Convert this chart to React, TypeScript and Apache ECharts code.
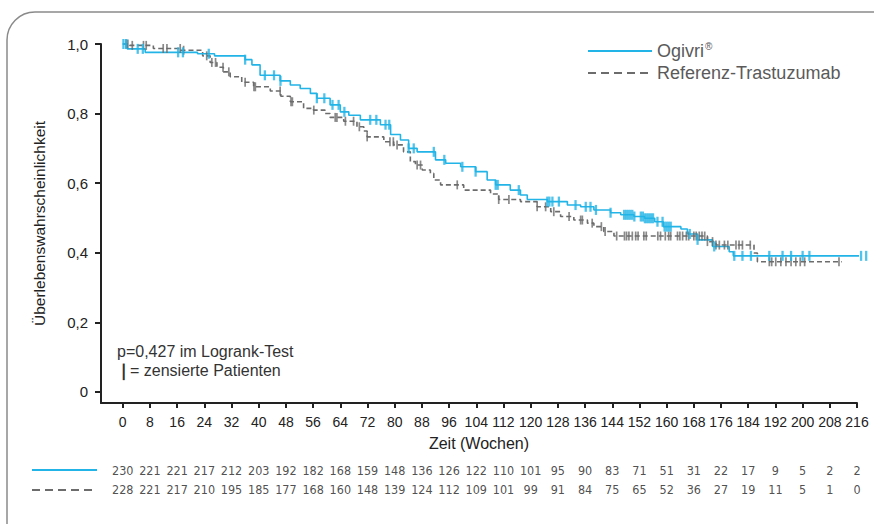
import React, { useEffect, useRef } from 'react';
import * as echarts from 'echarts';

// ---------- data ----------
const weekTicks = [0, 8, 16, 24, 32, 40, 48, 56, 64, 72, 80, 88, 96, 104, 112, 120, 128, 136, 144, 152, 160, 168, 176, 184, 192, 200, 208, 216];
const yTicks = [0, 0.2, 0.4, 0.6, 0.8, 1.0];

const ogivriTimes = [0, 1.3, 6.6, 22, 27, 36, 38, 40.4, 46.3, 49.3, 52.2, 55.2, 57.1, 61, 64, 66.5, 69.9, 75.8, 78.8, 81.7, 84.1, 86.6, 92, 95, 99.4, 103.8, 107.2, 109.7, 114, 117, 119, 124.9, 130.8, 134.7, 138.6, 143.5, 146.5, 150.4, 153.5, 156.5, 159, 164.2, 166.1, 169.1, 173.5, 178.4, 179.6, 219];
const ogivriSurv = [1.0, 0.986, 0.976, 0.972, 0.966, 0.955, 0.94, 0.91, 0.894, 0.882, 0.872, 0.858, 0.844, 0.825, 0.805, 0.795, 0.782, 0.768, 0.74, 0.724, 0.7, 0.69, 0.667, 0.657, 0.647, 0.633, 0.609, 0.595, 0.58, 0.566, 0.553, 0.547, 0.537, 0.532, 0.523, 0.515, 0.509, 0.504, 0.499, 0.489, 0.475, 0.468, 0.454, 0.437, 0.418, 0.403, 0.391, 0.391];

const refTimes = [0, 2, 9, 17, 23.5, 25.7, 27.7, 29.6, 31.6, 35, 38.5, 43.4, 46.5, 49.3, 53.2, 56.1, 59.5, 61, 65, 68.9, 70.9, 71.9, 76.8, 79.7, 82.6, 84.6, 86.1, 88.1, 90.5, 91.5, 93.5, 100.3, 108.2, 110.6, 117, 121.9, 125.9, 128.8, 132.7, 136.7, 138.6, 141.5, 144.5, 172, 174.5, 185.7, 186.7, 211.5];
const refSurv = [1.0, 0.996, 0.987, 0.982, 0.966, 0.947, 0.933, 0.92, 0.906, 0.89, 0.877, 0.865, 0.85, 0.834, 0.815, 0.81, 0.8, 0.789, 0.778, 0.762, 0.75, 0.733, 0.719, 0.71, 0.69, 0.662, 0.652, 0.638, 0.628, 0.609, 0.595, 0.58, 0.569, 0.553, 0.547, 0.532, 0.518, 0.504, 0.494, 0.485, 0.475, 0.461, 0.448, 0.432, 0.422, 0.399, 0.374, 0.374];

const ogivriCensored = [0.2, 1, 4.4, 5.9, 16.3, 17.7, 25.3, 36, 41.8, 44.5, 46.4, 57.1, 59.3, 61.7, 63.5, 65.2, 72.8, 74.6, 77.3, 78.4, 84.1, 85.6, 91.5, 94.6, 99.9, 103.8, 109.7, 110.3, 116.5, 124.9, 125.5, 126.4, 128.3, 133.2, 136.2, 137.6, 139.2, 143.5, 147.5, 148.1, 148.7, 149.3, 149.9, 150.5, 152.4, 153, 153.6, 154.2, 154.8, 155.4, 156, 157.3, 158.8, 159.4, 160, 160.6, 161.2, 166.8, 169.1, 174, 179.9, 182.3, 184.8, 190.2, 194.1, 196.6, 200, 202, 217.2, 218.7];
const refCensored = [1, 1.5, 2.8, 6.1, 6.9, 11.9, 13, 16.9, 17.9, 24.7, 26.2, 27.3, 29.5, 31.2, 36, 38.6, 39, 46.3, 49.5, 49.9, 56.2, 62.5, 63, 65.5, 67.9, 69.6, 71.9, 78.6, 79.6, 80.7, 86.6, 87.6, 98.4, 110.6, 113.6, 121.9, 124.4, 126.8, 131.3, 134.7, 135.2, 138.1, 140.8, 141.9, 145.3, 147.6, 148.2, 148.9, 149.9, 150.9, 151.6, 153.3, 154, 157.4, 158.2, 159.6, 160.6, 161.2, 163.2, 163.9, 164.7, 165.8, 166.5, 168, 168.7, 169.6, 170.4, 171.2, 172, 173.5, 174.5, 175.5, 177, 178, 180.4, 181.3, 182.3, 184.6, 190.2, 190.9, 192.1, 193.6, 195.1, 196.6, 198, 199.3, 200.6, 210.7];

const ogivriAtRisk = [230, 221, 221, 217, 212, 203, 192, 182, 168, 159, 148, 136, 126, 122, 110, 101, 95, 90, 83, 71, 51, 31, 22, 17, 9, 5, 2, 2];
const refAtRisk = [228, 221, 217, 210, 195, 185, 177, 168, 160, 148, 139, 124, 112, 109, 101, 99, 91, 84, 75, 65, 52, 36, 27, 19, 11, 5, 1, 0];

const seriesNames = ['Ogivri', 'Referenz-Trastuzumab'];
const riskRows = ['Ogivri', 'Referenz'];

// ---------- helpers ----------
const survAt = (times: number[], surv: number[], t: number) => {
  let v = surv[0];
  for (let i = 0; i < times.length; i++) {
    if (times[i] <= t) v = surv[i];
  }
  return v;
};

const BLUE = '#22b4e6';
const GREY = '#6c6c6c';
const FONT = "'Liberation Sans', Arial, Helvetica, sans-serif";
const NARROW = "'Liberation Sans Narrow', 'DejaVu Sans Condensed', 'Liberation Sans', Arial, sans-serif";

export default function App() {
  const ref = useRef<HTMLDivElement>(null);

  useEffect(() => {
    if (!ref.current) return;
    const chart = echarts.init(ref.current, undefined, { renderer: 'svg' });

    const ogivriLine = ogivriTimes.map((t, i) => [t, ogivriSurv[i]]);
    const refLine = refTimes.map((t, i) => [t, refSurv[i]]);
    const ogivriMarks = ogivriCensored.map((t) => [t, survAt(ogivriTimes, ogivriSurv, t)]);
    const refMarks = refCensored.map((t) => [t, survAt(refTimes, refSurv, t)]);
    const riskData1 = weekTicks.map((w, i) => [w, riskRows[0], ogivriAtRisk[i]]);
    const riskData2 = weekTicks.map((w, i) => [w, riskRows[1], refAtRisk[i]]);

    const riskLabel = {
      show: true,
      position: 'inside',
      formatter: (p: any) => String(p.value[2]),
      fontSize: 12.5,
      color: '#222',
      fontFamily: NARROW,
    };

    const option: any = {
      animation: false,
      backgroundColor: '#ffffff',
      textStyle: { fontFamily: FONT },
      grid: [
        { left: 101, right: 17, top: 44, bottom: 121 },
        { left: 101, right: 17, top: 461, height: 38 },
      ],
      legend: {
        orient: 'vertical',
        left: 582,
        top: 36,
        padding: 5,
        itemWidth: 64,
        itemHeight: 14,
        itemGap: 4,
        data: [
          { name: seriesNames[0], itemStyle: { opacity: 0 }, lineStyle: { width: 2 } },
          { name: seriesNames[1], itemStyle: { opacity: 0 }, lineStyle: { width: 2, type: [8, 5] } },
        ],
        formatter: (name: string) => (name === seriesNames[0] ? '{a|Ogivri}{s|®}' : '{a|' + name + '}'),
        textStyle: {
          color: '#5a5a5a',
          fontFamily: FONT,
          rich: {
            a: { fontSize: 18, color: '#5a5a5a', fontFamily: FONT, lineHeight: 20 },
            s: { fontSize: 10, color: '#5a5a5a', fontFamily: FONT, verticalAlign: 'top', lineHeight: 20, padding: [0, 0, 6, 1] },
          },
        },
      },
      xAxis: [
        {
          type: 'value',
          gridIndex: 0,
          min: -6.4,
          max: 216,
          name: 'Zeit (Wochen)',
          nameLocation: 'middle',
          nameGap: 32,
          nameTextStyle: { fontSize: 16, color: '#222', fontFamily: FONT },
          axisLine: { show: true, onZero: false, lineStyle: { color: '#222', width: 2 } },
          axisTick: { show: true, customValues: weekTicks, length: 5, lineStyle: { color: '#222', width: 2 } },
          axisLabel: { customValues: weekTicks, fontSize: 14, color: '#222', margin: 12, fontFamily: FONT },
          splitLine: { show: false },
        },
        {
          type: 'value',
          gridIndex: 1,
          min: -6.4,
          max: 216,
          show: false,
        },
      ],
      yAxis: [
        {
          type: 'value',
          gridIndex: 0,
          min: -0.032,
          max: 1.0,
          name: 'Überlebenswahrscheinlichkeit',
          nameLocation: 'middle',
          nameGap: 54,
          nameRotate: 90,
          nameTextStyle: { fontSize: 15.5, color: '#222', fontFamily: FONT },
          axisLine: { show: true, onZero: false, lineStyle: { color: '#222', width: 2 } },
          axisTick: { show: true, customValues: yTicks, length: 6, lineStyle: { color: '#222', width: 2 } },
          axisLabel: {
            customValues: yTicks,
            fontSize: 15,
            color: '#222',
            margin: 13,
            fontFamily: FONT,
            formatter: (v: number) => (v === 0 ? '0' : v.toFixed(1).replace('.', ',')),
          },
          splitLine: { show: false },
        },
        {
          type: 'category',
          gridIndex: 1,
          data: riskRows,
          inverse: true,
          show: false,
        },
      ],
      series: [
        {
          name: seriesNames[1],
          type: 'line',
          step: 'end',
          symbol: 'none',
          clip: false,
          data: refLine,
          lineStyle: { color: GREY, width: 1.6, type: [5, 3] },
          itemStyle: { color: GREY },
          z: 2,
        },
        {
          name: seriesNames[0],
          type: 'line',
          step: 'end',
          symbol: 'none',
          clip: false,
          data: ogivriLine,
          lineStyle: { color: BLUE, width: 1.6 },
          itemStyle: { color: BLUE },
          z: 3,
        },
        {
          name: 'refCensor',
          type: 'scatter',
          symbol: 'rect',
          symbolSize: [1.7, 9],
          clip: false,
          data: refMarks,
          itemStyle: { color: GREY },
          z: 4,
        },
        {
          name: 'ogivriCensor',
          type: 'scatter',
          symbol: 'rect',
          symbolSize: [2.3, 10],
          clip: false,
          data: ogivriMarks,
          itemStyle: { color: BLUE },
          z: 5,
        },
        {
          name: 'riskOgivri',
          type: 'scatter',
          xAxisIndex: 1,
          yAxisIndex: 1,
          symbolSize: 0,
          data: riskData1,
          label: riskLabel,
        },
        {
          name: 'riskRef',
          type: 'scatter',
          xAxisIndex: 1,
          yAxisIndex: 1,
          symbolSize: 0,
          data: riskData2,
          label: riskLabel,
        },
      ],
      graphic: [
        {
          type: 'rect',
          shape: { x: 7, y: 12, width: 900, height: 560, r: 28 },
          style: { fill: 'none', stroke: '#8a8a8a', lineWidth: 1.5 },
          silent: true,
          z: -10,
        },
        {
          type: 'text',
          style: { x: 117, y: 351, text: 'p=0,427 im Logrank-Test', font: '16px ' + FONT, fill: '#333', verticalAlign: 'middle' },
        },
        {
          type: 'text',
          style: {
            x: 117,
            y: 370,
            text: '{b|❘}= zensierte Patienten',
            font: '16px ' + FONT,
            fill: '#333',
            verticalAlign: 'middle',
            rich: { b: { fontSize: 16, fontWeight: 'bold', fill: '#333', fontFamily: FONT } },
          },
        },
        {
          type: 'line',
          shape: { x1: 32, y1: 470, x2: 97, y2: 470 },
          style: { stroke: BLUE, lineWidth: 2 },
        },
        {
          type: 'line',
          shape: { x1: 32, y1: 490, x2: 97, y2: 490 },
          style: { stroke: GREY, lineWidth: 2, lineDash: [8, 5] },
        },
      ],
    };

    chart.setOption(option);
    return () => chart.dispose();
  }, []);

  return (
    <div
      ref={ref}
      style={{ position: 'fixed', left: 0, top: 0, width: 874, height: 524, background: '#fff' }}
    />
  );
}
